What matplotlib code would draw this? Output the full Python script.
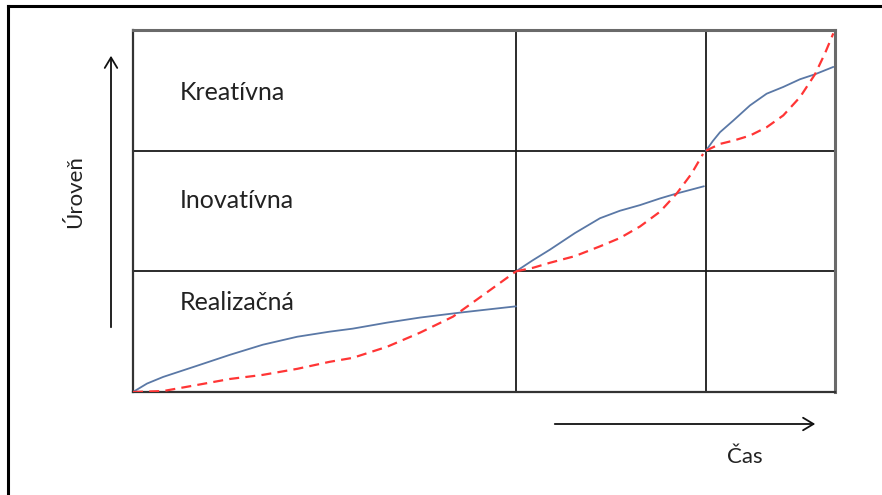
import matplotlib
matplotlib.use("Agg")
import matplotlib.pyplot as plt

# Levels (y, in bands 0-1, 1-2, 2-3) and time (x, 0-100)
LEVEL_LABELS = ["Realizačná", "Inovatívna", "Kreatívna"]
LEVEL_LABEL_Y = [0.74, 1.59, 2.48]
TIME_EDGES = [54.56, 81.62]
LEVEL_EDGES = [1, 2]

# blue solid curve, three pieces
blue_x1 = [0, 2.0, 4.3, 9.1, 13.8, 18.5, 23.4, 28.0, 31.3, 36.2, 40.9, 46.6, 50.4, 54.56]
blue_y1 = [0, 0.07, 0.125, 0.217, 0.308, 0.392, 0.458, 0.50, 0.525, 0.575, 0.617, 0.658, 0.683, 0.71]
blue_x2 = [54.56, 56.9, 59.4, 62.95, 66.52, 69.36, 72.23, 75.07, 77.45, 81.33]
blue_y2 = [1.0, 1.09, 1.18, 1.317, 1.44, 1.502, 1.549, 1.604, 1.645, 1.705]
blue_x3 = [81.62, 82.6, 83.62, 85.52, 87.89, 90.26, 92.63, 95.02, 97.15, 99.76]
blue_y3 = [2.0, 2.08, 2.153, 2.25, 2.375, 2.472, 2.528, 2.592, 2.633, 2.694]

# red dashed curve, three pieces
red_x1 = [0, 4.3, 9.1, 13.8, 18.5, 23.4, 28.0, 31.3, 36.2, 40.9, 45.6, 50.4, 54.56]
red_y1 = [0, 0.008, 0.058, 0.108, 0.142, 0.192, 0.25, 0.283, 0.375, 0.492, 0.625, 0.825, 1.0]
red_x2 = [54.56, 57.02, 59.4, 62.95, 66.52, 69.36, 72.23, 75.07, 77.45, 79.56, 81.2]
red_y2 = [1.0, 1.03, 1.071, 1.126, 1.207, 1.276, 1.372, 1.494, 1.645, 1.809, 1.973]
red_x3 = [81.62, 83.62, 85.52, 87.89, 90.26, 92.63, 95.02, 97.15, 98.57, 99.76]
red_y3 = [2.0, 2.056, 2.083, 2.125, 2.194, 2.292, 2.444, 2.633, 2.806, 2.972]

W, H = 882, 495
FONT = ["Lato", "DejaVu Sans"]
TEXT_COLOR = "#222222"
BLUE = "#5a78a6"
RED = "#ff3535"


def fx(px):
    return px / W


def fy(py):
    return 1 - py / H


fig = plt.figure(figsize=(W / 100, H / 100), dpi=100)
fig.patch.set_facecolor("white")

ax = fig.add_axes([fx(133), fy(392), (835 - 133) / W, (392 - 30) / H])
ax.set_xlim(0, 100)
ax.set_ylim(0, 3)
ax.set_xticks([])
ax.set_yticks([])
for side in ["left", "bottom"]:
    ax.spines[side].set_color("#333333")
    ax.spines[side].set_linewidth(1.6)
for side in ["top", "right"]:
    ax.spines[side].set_color("#6a6a6a")
    ax.spines[side].set_linewidth(2.2)

for xe in TIME_EDGES:
    ax.axvline(xe, color="#1a1a1a", lw=1.3, zorder=1)
for ye in LEVEL_EDGES:
    ax.axhline(ye, color="#1a1a1a", lw=1.3, zorder=1)

for xs, ys in [(blue_x1, blue_y1), (blue_x2, blue_y2), (blue_x3, blue_y3)]:
    ax.plot(xs, ys, color=BLUE, lw=1.3, zorder=3,
            solid_capstyle="round", solid_joinstyle="round")
for xs, ys in [(red_x1, red_y1), (red_x2, red_y2), (red_x3, red_y3)]:
    line, = ax.plot(xs, ys, color=RED, lw=1.6, zorder=4)
    line.set_dashes([4.5, 2.8])

for label, y in zip(LEVEL_LABELS, LEVEL_LABEL_Y):
    ax.text(6.7, y, label, fontsize=18, family=FONT, color=TEXT_COLOR,
            ha="left", va="center")

# axis arrows
fig.add_artist(matplotlib.patches.FancyArrowPatch(
    (fx(111), fy(330)), (fx(111), fy(53)), transform=fig.transFigure,
    arrowstyle="->,head_length=5,head_width=3", color="#111111", lw=1.3,
    mutation_scale=1.5))
fig.add_artist(matplotlib.patches.FancyArrowPatch(
    (fx(552), fy(424)), (fx(818), fy(424)), transform=fig.transFigure,
    arrowstyle="->,head_length=5,head_width=3", color="#111111", lw=1.3,
    mutation_scale=1.5))

fig.text(fx(75), fy(192), "Úroveň", rotation=90, fontsize=16, family=FONT,
         color=TEXT_COLOR, ha="center", va="center")
fig.text(fx(745), fy(457), "Čas", fontsize=16, family=FONT,
         color=TEXT_COLOR, ha="center", va="center")

# outer frame (top and left edges visible)
fig.add_artist(matplotlib.lines.Line2D([fx(8), 1], [fy(6), fy(6)],
                                       transform=fig.transFigure, color="black", lw=2.2))
fig.add_artist(matplotlib.lines.Line2D([fx(8), fx(8)], [fy(6), 0],
                                       transform=fig.transFigure, color="black", lw=2.2))

fig.savefig("out.png", dpi=100)
